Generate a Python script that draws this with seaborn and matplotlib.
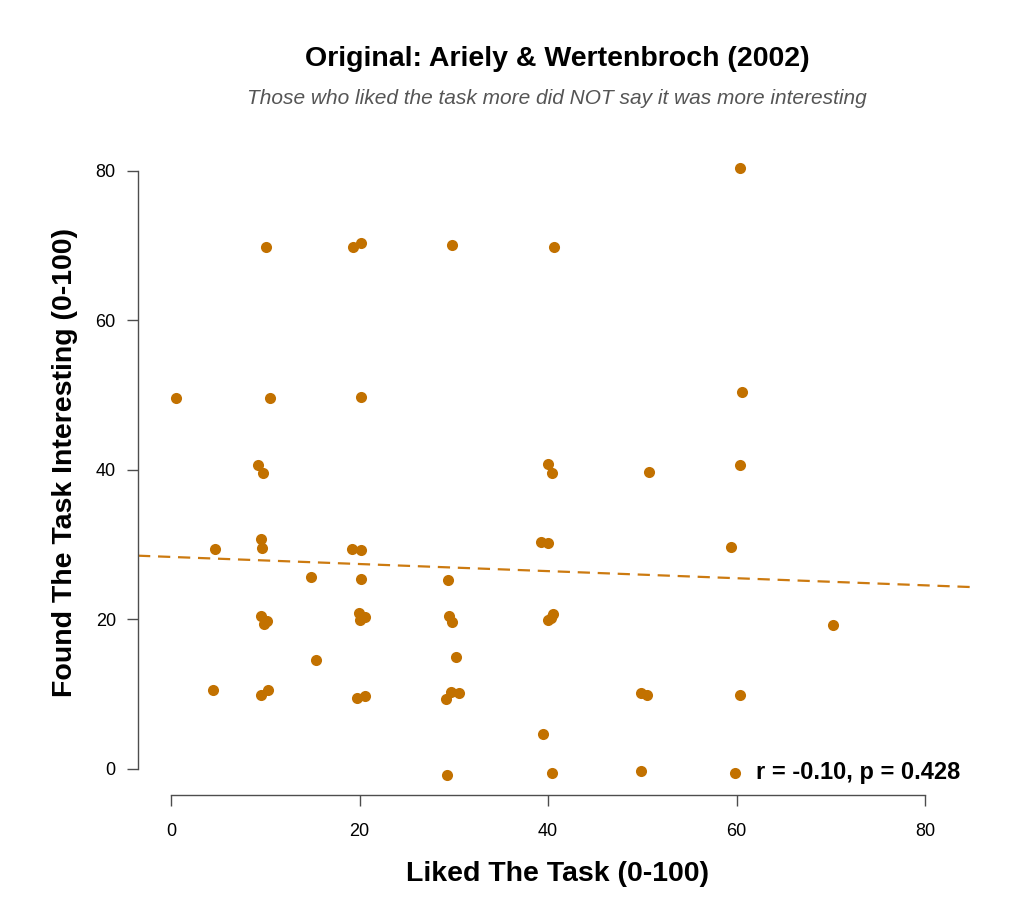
import matplotlib
matplotlib.use("Agg")
import matplotlib.pyplot as plt
import seaborn as sns
import pandas as pd
import numpy as np

liked = [10.1, 19.3, 20.2, 29.8, 40.6, 60.4,
         0.5, 10.5, 20.1, 60.6,
         9.2, 9.8, 40.0, 40.4, 50.7, 60.4,
         4.7, 9.5, 9.7, 19.2, 20.1, 39.2, 40.0, 59.4,
         14.9, 20.1, 29.4,
         9.5, 10.2, 9.9, 19.9, 20.6, 20.0, 29.5, 29.8, 40.5, 40.0, 40.3, 70.2,
         15.4, 30.2,
         4.4, 9.5, 10.3, 19.7, 20.6, 29.2, 29.7, 30.5, 49.9, 50.5, 60.4,
         39.5,
         29.3, 40.4, 49.9, 59.8]
interesting = [69.8, 69.8, 70.4, 70.1, 69.8, 80.4,
               49.6, 49.6, 49.7, 50.4,
               40.6, 39.6, 40.8, 39.6, 39.7, 40.7,
               29.4, 30.7, 29.6, 29.4, 29.3, 30.3, 30.2, 29.7,
               25.6, 25.4, 25.2,
               20.4, 19.8, 19.4, 20.8, 20.3, 19.9, 20.4, 19.7, 20.7, 19.9, 20.2, 19.2,
               14.5, 14.9,
               10.6, 9.9, 10.5, 9.5, 9.8, 9.4, 10.3, 10.2, 10.1, 9.9, 9.9,
               4.7,
               -0.8, -0.5, -0.3, -0.6]
# Trend line intercept and slope (not a
# regression on the points above; fitting these points gives a steeper line).
trend_intercept = 28.35
trend_slope = -0.0475
ticks = [0, 20, 40, 60, 80]
title = "Original: Ariely & Wertenbroch (2002)"
subtitle = "Those who liked the task more did NOT say it was more interesting"
xlabel = "Liked The Task (0-100)"
ylabel = "Found The Task Interesting (0-100)"
stat_text = "r = -0.10, p = 0.428"

df = pd.DataFrame({"liked": liked, "interesting": interesting})

sns.set_style("white")
plt.rcParams['font.family'] = ['Liberation Sans', 'DejaVu Sans']
plt.rcParams['text.color'] = 'black'
plt.rcParams['axes.labelcolor'] = 'black'
plt.rcParams['xtick.color'] = 'black'
plt.rcParams['ytick.color'] = 'black'

color = "#C27100"
line_color = "#CC7A10"
axis_col = "#4d4d4d"

fig = plt.figure(figsize=(10.24, 9.10), dpi=100)
ax = fig.add_axes([0.1348, 0.1264, 0.8184, 0.7318])
xlims = (-3.5, 85.4)
ylims = (-3.5, 85.6)

sns.scatterplot(data=df, x="liked", y="interesting", ax=ax, color=color,
                s=64, linewidth=0, zorder=3)
ax.axline((0, trend_intercept), slope=trend_slope, color=line_color, lw=1.6,
          ls=(0, (5.5, 3.5)), zorder=2)
ax.set_xlim(*xlims)
ax.set_ylim(*ylims)

for side in ["top", "right"]:
    ax.spines[side].set_visible(False)
for side in ["left", "bottom"]:
    ax.spines[side].set_color(axis_col)
    ax.spines[side].set_linewidth(1.0)
    ax.spines[side].set_bounds(0, 80)
ax.set_xticks(ticks)
ax.set_yticks(ticks)
ax.tick_params(axis="both", direction="out", length=8, width=1.0, color=axis_col,
               labelsize=13, labelcolor="black", pad=8, left=True, bottom=True)
ax.tick_params(axis="x", pad=12)
ax.set_xlabel(xlabel, fontsize=20.5, fontweight="bold", labelpad=15, color="black")
ax.set_ylabel(ylabel, fontsize=20.5, fontweight="bold", labelpad=13, color="black")

ax.text(62.1, -0.5, stat_text, fontsize=17, fontweight="bold", va="center", ha="left",
        color="black")

fig.text(0.544, 0.935, title, fontsize=20.5, fontweight="bold", ha="center", va="center",
         color="black")
fig.text(0.544, 0.892, subtitle, fontsize=15, style="italic", color="#555555",
         ha="center", va="center")

fig.savefig("out.png", dpi=100)
